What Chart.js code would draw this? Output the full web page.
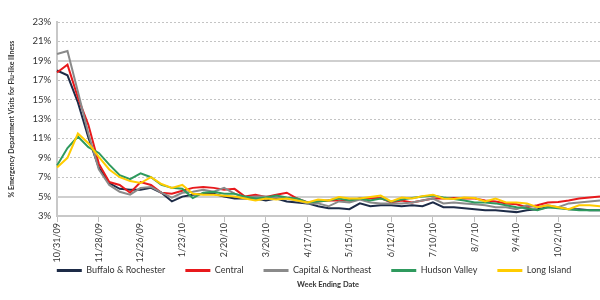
<!DOCTYPE html>
<html><head><meta charset="utf-8">
<script src="https://cdn.jsdelivr.net/npm/chart.js@4/dist/chart.umd.min.js"></script>
<style>html,body{margin:0;padding:0;background:#fff}#wrap{width:600px;height:300px;position:relative}</style>
</head><body><div id="wrap"><canvas id="c"></canvas></div>
<script>
const weeks = ["10/31/09","11/7/09","11/14/09","11/21/09","11/28/09","12/5/09","12/12/09","12/19/09","12/26/09","1/2/10","1/9/10","1/16/10","1/23/10","1/30/10","2/6/10","2/13/10","2/20/10","2/27/10","3/6/10","3/13/10","3/20/10","3/27/10","4/3/10","4/10/10","4/17/10","4/24/10","5/1/10","5/8/10","5/15/10","5/22/10","5/29/10","6/5/10","6/12/10","6/19/10","6/26/10","7/3/10","7/10/10","7/17/10","7/24/10","7/31/10","8/7/10","8/14/10","8/21/10","8/28/10","9/4/10","9/11/10","9/18/10","9/25/10","10/2/10","10/9/10","10/16/10","10/23/10","10/30/10"];
const tickLabels = ["10/31/09","11/28/09","12/26/09","1/23/10","2/20/10","3/20/10","4/17/10","5/15/10","6/12/10","7/10/10","8/7/10","9/4/10","10/2/10"];
const buffaloRochester = [18.0,17.5,14.7,11.1,8.0,6.4,5.8,5.7,5.7,5.9,5.4,4.5,5.0,
 5.2,5.3,5.3,5.0,4.8,4.8,4.8,4.6,4.8,4.5,4.4,4.3,4.0,3.8,3.8,3.7,4.3,4.0,4.1,4.1,
 4.0,4.1,4.0,4.4,3.9,3.9,3.8,3.7,3.6,3.6,3.5,3.4,3.6,3.7,3.9,3.9,3.7,3.7,3.6,3.6];
const central = [17.8,18.6,15.2,12.4,8.4,6.5,6.2,5.4,6.5,6.2,5.4,5.3,5.6,
 5.9,6.0,5.9,5.7,5.8,5.0,5.2,4.95,5.2,5.4,4.8,4.4,4.5,4.6,4.6,4.6,4.8,4.8,4.85,4.4,
 4.6,4.4,4.6,4.8,4.8,4.85,4.8,4.8,4.6,4.5,4.3,4.2,3.9,4.1,4.4,4.45,4.6,4.8,4.9,5.0];
const capitalNortheast = [19.7,20.0,15.8,11.5,7.8,6.2,5.5,5.2,5.9,6.0,5.4,4.9,5.4,
 5.5,5.7,5.5,5.9,5.3,4.9,5.0,5.0,4.9,4.8,4.6,4.3,4.3,4.0,4.5,4.4,4.7,4.4,4.3,4.3,
 4.3,4.4,4.6,4.8,4.3,4.4,4.3,4.2,4.1,3.9,3.9,3.7,4.1,3.9,4.1,3.9,4.3,4.4,4.5,4.6];
const hudsonValley = [8.2,10.0,11.2,10.1,9.5,8.3,7.2,6.8,7.4,7.0,6.2,5.9,5.8,
 4.85,5.4,5.5,5.3,5.3,5.0,4.8,4.9,5.1,4.9,4.8,4.4,4.5,4.6,4.8,4.6,4.8,4.6,4.8,4.5,
 4.7,4.85,5.0,5.1,4.9,4.75,4.6,4.4,4.4,4.3,4.1,3.9,3.8,3.6,3.9,3.8,3.7,3.6,3.6,3.6];
const longIsland = [8.0,9.0,11.5,10.5,9.1,7.8,7.0,6.6,6.4,7.0,6.3,5.9,6.2,
 5.3,5.2,5.2,5.1,5.0,4.8,4.6,4.8,4.7,4.8,4.6,4.4,4.7,4.6,4.95,4.8,4.8,4.95,5.1,4.5,
 4.9,4.8,5.05,5.2,4.8,4.75,4.9,4.85,4.5,4.8,4.4,4.4,4.3,3.9,4.1,3.9,3.7,4.1,4.1,4.0];
const seriesNames = ["Buffalo & Rochester","Central","Capital & Northeast","Hudson Valley","Long Island"];
const seriesColors = ["#1d2b47","#e8191c","#8a8a8a","#2f9a5e","#ffcc00"];
const yMin = 3, yMax = 23, yStep = 2;
const solidGridValues = [5, 19];

const seriesData = [buffaloRochester, central, capitalNortheast, hudsonValley, longIsland];
Chart.defaults.font.family = "Lato, 'Open Sans', sans-serif";
Chart.defaults.color = "#333";

const solidGrid = {
  id: 'solidGrid',
  beforeDatasetsDraw(chart) {
    const {ctx, chartArea, scales} = chart;
    ctx.save();
    ctx.strokeStyle = '#cfcfcf';
    ctx.lineWidth = 2;
    solidGridValues.forEach(v => {
      const y = Math.round(scales.y.getPixelForValue(v));
      ctx.beginPath();
      ctx.moveTo(chartArea.left, y);
      ctx.lineTo(chartArea.right, y);
      ctx.stroke();
    });
    ctx.restore();
  }
};
const shiftBoxes = {
  id: 'shiftBoxes',
  afterLayout(chart) {
    if (chart.legend) { chart.legend.left += 10; chart.legend.right += 10; }
    if (chart.titleBlock) { chart.titleBlock.left += 24; chart.titleBlock.right += 24; }
  }
};
const isTick = (i) => tickLabels.includes(weeks[i]);

new Chart(document.getElementById('c'), {
  type: 'line',
  data: {
    labels: weeks,
    datasets: seriesData.map((d, i) => ({
      label: seriesNames[i],
      data: d,
      borderColor: seriesColors[i],
      backgroundColor: seriesColors[i],
      borderWidth: 2,
      pointRadius: 0,
      tension: 0,
      order: seriesData.length - i
    }))
  },
  options: {
    responsive: true,
    maintainAspectRatio: false,
    animation: false,
    layout: { padding: { left: 8, right: 0, top: 22, bottom: 4 } },
    plugins: {
      tooltip: { enabled: false },
      legend: {
        position: 'bottom',
        maxHeight: 34,
        labels: {
          boxWidth: 25, boxHeight: 3, padding: 20,
          font: { size: 9 }, color: '#333',
          sort: (a, b) => a.datasetIndex - b.datasetIndex,
          generateLabels: (chart) => Chart.defaults.plugins.legend.labels.generateLabels(chart).map(l => Object.assign(l, {lineWidth: 0, fillStyle: seriesColors[l.datasetIndex]}))
        }
      },
      title: {
        display: true, position: 'bottom', text: 'Week Ending Date',
        font: { size: 7.5, weight: 'bold' }, color: '#333', padding: { top: 0, bottom: 7 }
      }
    },
    scales: {
      x: {
        offset: false,
        afterFit: s => { s.height = 30; s.paddingRight = 0; s.paddingLeft = 0; s._computeLabelArea = () => null; },
        grid: {
          drawOnChartArea: false, drawTicks: true, tickLength: 6,
          color: ctx => (isTick(ctx.index) ? '#c0c0c0' : 'rgba(0,0,0,0)'),
          tickColor: ctx => (isTick(ctx.index) ? '#c0c0c0' : 'rgba(0,0,0,0)')
        },
        border: { display: true, color: '#c8c8c8', width: 2 },
        ticks: {
          autoSkip: false, minRotation: 90, maxRotation: 90, padding: 1,
          font: { size: 9 }, color: '#333',
          callback: function(v, i) { return isTick(i) ? weeks[i] : ''; }
        }
      },
      y: {
        min: yMin, max: yMax,
        grid: { color: '#c4c4c4', lineWidth: 1, drawTicks: false },
        border: { display: true, color: '#c8c8c8', width: 2, dash: [2, 2] },
        ticks: { stepSize: yStep, padding: 6, font: { size: 9.5 }, color: '#333', callback: v => v + '%' },
        title: { display: true, text: '% Emergency Department Visits for Flu-like Illness', font: { size: 7, weight: 'bold' }, color: '#333', padding: { top: 0, bottom: 10 } }
      }
    }
  },
  plugins: [solidGrid, shiftBoxes]
});
</script></body></html>
